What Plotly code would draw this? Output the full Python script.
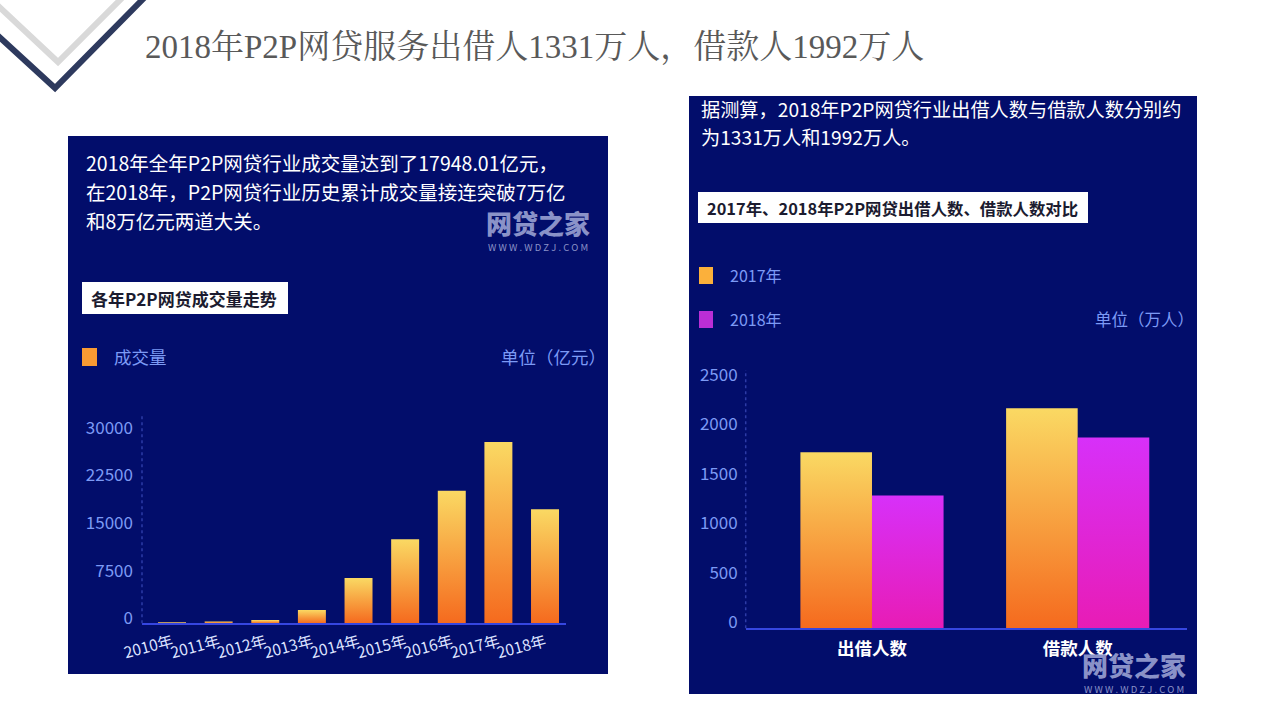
import plotly.graph_objects as go

# ---------------- data ----------------
years = ['2010年', '2011年', '2012年', '2013年', '2014年', '2015年', '2016年', '2017年', '2018年']
volume = [150, 300, 500, 2100, 7130, 13230, 20880, 28550, 17948]          # 亿元
vol_ticks = [0, 7500, 15000, 22500, 30000]

groups = ['出借人数', '借款人数']
people_2017 = [1776, 2220]    # 万人
people_2018 = [1340, 1925]    # 万人
ppl_ticks = [0, 500, 1000, 1500, 2000, 2500]

# ---------------- helpers ----------------
W, H = 1280, 720
def px(x): return x / W
def py(y): return 1 - y / H

BG = '#020D6B'
TICK_BLUE = '#7C9AF5'
AXIS_BLUE = '#3646E0'
FONT = 'Noto Sans CJK SC, Noto Sans, sans-serif'
ORANGE = [[0, '#F56A1E'], [1, '#FAD963']]
PURPLE = [[0, '#E81CB5'], [1, '#D730F9']]

fig = go.Figure()

def add_bar(x0, x1, v, scale, xa, ya, label):
    fig.add_trace(go.Scatter(
        x=[x0, x0, x1, x1, x0], y=[0, v, v, 0, 0],
        fill='toself', mode='lines', line=dict(width=0),
        fillcolor=scale[-1][1],
        fillgradient=dict(type='vertical', colorscale=scale),
        xaxis=xa, yaxis=ya, showlegend=False,
        hoveron='fills', hoverinfo='text', text=label))

# left chart bars
hw = 0.30
for i, (yr, v) in enumerate(zip(years, volume)):
    add_bar(i - hw, i + hw, v, ORANGE, 'x', 'y', f'{yr}: {v}')

# right chart bars
bw = 0.348
for i, g in enumerate(groups):
    add_bar(i - bw, i, people_2017[i], ORANGE, 'x2', 'y2', f'2017年 {g}: {people_2017[i]}')
    add_bar(i, i + bw, people_2018[i], PURPLE, 'x2', 'y2', f'2018年 {g}: {people_2018[i]}')

# ---------------- axes ----------------
L_X0, L_X1, L_Y0, L_Y1 = 142, 566, 623.3, 415
R_X0, R_X1, R_Y0, R_Y1 = 745.7, 1186.7, 628.3, 370

fig.update_layout(
    xaxis=dict(domain=[px(L_X0), px(L_X1)], range=[-0.644, 8.45], anchor='y',
               tickmode='array', tickvals=list(range(len(years))), ticktext=years,
               tickangle=-15, tickfont=dict(color='#DDE2FF', size=15.5, family=FONT),
               ticklabelstandoff=2,
               showline=True, linecolor=AXIS_BLUE, linewidth=2, automargin=False,
               showgrid=False, zeroline=False, ticks=''),
    yaxis=dict(domain=[py(L_Y0), py(L_Y1)], range=[0, 32800], anchor='x',
               tickmode='array', tickvals=vol_ticks, ticktext=[str(t) for t in vol_ticks],
               tickfont=dict(color=TICK_BLUE, size=17, family=FONT), automargin=False,
               ticklabelstandoff=8, ticklabelshift=-5,
               showline=False, showgrid=False, zeroline=False, ticks=''),
    xaxis2=dict(domain=[px(R_X0), px(R_X1)], range=[-0.614, 1.53], anchor='y2',
                tickmode='array', tickvals=list(range(len(groups))), ticktext=groups,
                tickfont=dict(color='#FFFFFF', size=17.5, family=FONT, weight='bold'),
                ticklabelstandoff=4,
                showline=True, linecolor=AXIS_BLUE, linewidth=2, automargin=False,
                showgrid=False, zeroline=False, ticks=''),
    yaxis2=dict(domain=[py(R_Y0), py(R_Y1)], range=[0, 2607], anchor='x2',
                tickmode='array', tickvals=ppl_ticks, ticktext=[str(t) for t in ppl_ticks],
                tickfont=dict(color=TICK_BLUE, size=17, family=FONT), automargin=False,
                ticklabelstandoff=7, ticklabelshift=-6,
                showline=False, showgrid=False, zeroline=False, ticks=''),
)

# ---------------- shapes ----------------
shapes = []
# panels
shapes.append(dict(type='rect', xref='paper', yref='paper', layer='below',
                   x0=px(68), x1=px(608), y0=py(674), y1=py(136),
                   fillcolor=BG, line=dict(width=0)))
shapes.append(dict(type='rect', xref='paper', yref='paper', layer='below',
                   x0=px(689), x1=px(1197), y0=py(694), y1=py(96),
                   fillcolor=BG, line=dict(width=0)))
# white title boxes
shapes.append(dict(type='rect', xref='paper', yref='paper',
                   x0=px(82), x1=px(288), y0=py(314), y1=py(282),
                   fillcolor='#FFFFFF', line=dict(width=0)))
shapes.append(dict(type='rect', xref='paper', yref='paper',
                   x0=px(698), x1=px(1088), y0=py(223), y1=py(192),
                   fillcolor='#FFFFFF', line=dict(width=0)))
# legend squares
shapes.append(dict(type='rect', xref='paper', yref='paper',
                   x0=px(82), x1=px(97), y0=py(366), y1=py(348),
                   fillcolor='#F99A33', line=dict(width=0)))
shapes.append(dict(type='rect', xref='paper', yref='paper',
                   x0=px(699), x1=px(713), y0=py(284), y1=py(267),
                   fillcolor='#FBB03B', line=dict(width=0)))
shapes.append(dict(type='rect', xref='paper', yref='paper',
                   x0=px(699), x1=px(713), y0=py(328), y1=py(311),
                   fillcolor='#BA2ED6', line=dict(width=0)))
# dotted y axis lines
shapes.append(dict(type='line', xref='paper', yref='paper',
                   x0=px(L_X0), x1=px(L_X0), y0=py(L_Y0), y1=py(L_Y1),
                   line=dict(color='#2D3BA6', width=1.5, dash='dot')))
shapes.append(dict(type='line', xref='paper', yref='paper',
                   x0=px(R_X0), x1=px(R_X0), y0=py(R_Y0), y1=py(R_Y1),
                   line=dict(color='#2D3BA6', width=1.5, dash='dot')))
# decorative chevrons (top-left)
def path(pts):
    return 'M ' + ' L '.join(f'{px(a):.5f} {py(b):.5f}' for a, b in pts)
shapes.append(dict(type='path', xref='paper', yref='paper',
                   path=path([(-5, 3), (58, 62), (124, -4)]),
                   line=dict(color='#D9D9D9', width=6)))
shapes.append(dict(type='path', xref='paper', yref='paper',
                   path=path([(-5, 33), (55, 88), (146, -4)]),
                   line=dict(color='#2E3A5E', width=6)))
fig.update_layout(shapes=shapes)

# ---------------- annotations ----------------
ann = []
def text(x, y, s, size, color, xanchor='left', bold=False, family=FONT, weight=None):
    ann.append(dict(xref='paper', yref='paper', x=px(x), y=py(y), text=s,
                    showarrow=False, xanchor=xanchor, yanchor='middle',
                    font=dict(size=size, color=color, family=family,
                              weight=weight if weight else ('bold' if bold else 'normal'))))

text(143, 48, '2018年P2P网贷服务出借人1331万人，借款人1992万人', 33, '#595959',
     family='Liberation Serif, Noto Serif CJK SC, Noto Sans CJK SC, serif')

# left panel
text(84, 163, '2018年全年P2P网贷行业成交量达到了17948.01亿元，', 19.5, '#FFFFFF')
text(84, 192, '在2018年，P2P网贷行业历史累计成交量接连突破7万亿', 19.5, '#FFFFFF')
text(84, 220, '和8万亿元两道大关。', 19.5, '#FFFFFF')
text(89, 298, '各年P2P网贷成交量走势', 17, '#1B1B2F', bold=True)
text(112, 356, '成交量', 17.5, TICK_BLUE)
text(608, 356, '单位（亿元）', 17.5, TICK_BLUE, xanchor='right')

# right panel
text(699, 109, '据测算，2018年P2P网贷行业出借人数与借款人数分别约', 19.2, '#FFFFFF')
text(699, 137, '为1331万人和1992万人。', 19.2, '#FFFFFF')
text(705, 208, '2017年、2018年P2P网贷出借人数、借款人数对比', 16.4, '#1B1B2F', bold=True)
text(728, 275, '2017年', 16, TICK_BLUE)
text(728, 319, '2018年', 16, TICK_BLUE)
text(1196, 319, '单位（万人）', 16.5, TICK_BLUE, xanchor='right')

# watermarks
for cx, cy in [(538, 222), (1134, 664)]:
    text(cx, cy, '网贷之家', 26, '#8A92C8', xanchor='center', weight=900)
    text(cx, cy + 25, 'W W W . W D Z J . C O M', 9.5, '#8A92C8', xanchor='center')

fig.update_layout(annotations=ann)

fig.update_layout(width=W, height=H, margin=dict(l=0, r=0, t=0, b=0, autoexpand=False),
                  paper_bgcolor='#FFFFFF', plot_bgcolor='rgba(0,0,0,0)',
                  showlegend=False, font=dict(family=FONT))

fig.write_html('out.html', config={'displayModeBar': False},
               post_script="document.body.style.margin='0';document.body.style.overflow='hidden';")
